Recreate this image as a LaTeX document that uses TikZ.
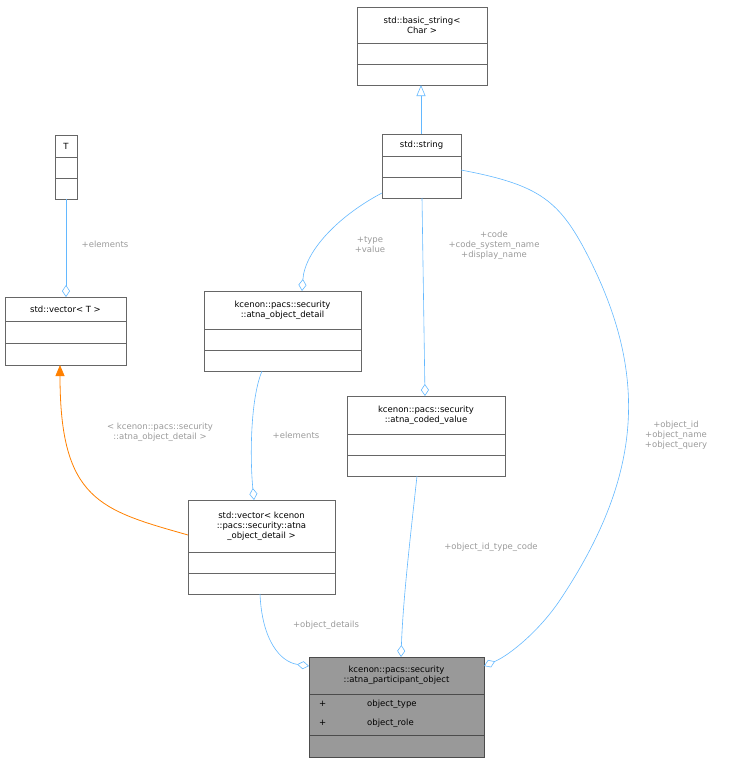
\documentclass[tikz,border=0pt]{standalone}
\usepackage{fontspec}
\setmainfont{DejaVu Sans}
\usetikzlibrary{arrows.meta}
\definecolor{edge}{HTML}{63B8FF}
\definecolor{lab}{HTML}{9A9A9A}
\definecolor{brd}{HTML}{666666}
\begin{document}
\begin{tikzpicture}[x=1pt,y=-1pt,
  t/.style={font=\fontsize{8.5}{10}\selectfont,align=center,inner sep=0},
  lbl/.style={font=\fontsize{8.5}{10}\selectfont,text=lab,align=center,inner sep=0},
  e/.style={draw=edge,line width=0.6pt},
  dia/.style={e,-{Diamond[open,length=12,width=8]}},
  bx/.style={draw=brd,line width=0.6pt}]
\useasboundingbox (0,0) rectangle (730,763);
% class box macro via explicit drawing
\newcommand{\cls}[6]{% name, x1,y1,x2,ytitle,y2 ; compartments split mid
  \draw[bx] (#2,#3) rectangle (#4,#6);
  \draw[bx] (#2,#5) -- (#4,#5);
  \draw[bx] (#2,{(#5+#6)/2}) -- (#4,{(#5+#6)/2});
  \coordinate (#1) at ({(#2+#4)/2},{(#3+#5)/2});}
\cls{bs}{357}{7}{487}{43}{85}
\node[t] at (bs) {std::basic\_string<\\Char >};
\cls{str}{382}{134}{461}{156}{198}
\node[t] at (str) {std::string};
\cls{T}{55}{135}{77}{157}{199}
\node[t] at (T) {T};
\cls{vt}{5}{297}{126}{321}{365}
\node[t] at (vt) {std::vector< T >};
\cls{det}{204}{291}{361}{329}{371}
\node[t] at (det) {kcenon::pacs::security\\::atna\_object\_detail};
\cls{cv}{347}{396}{505}{434}{476}
\node[t] at (cv) {kcenon::pacs::security\\::atna\_coded\_value};
\cls{vk}{188}{500}{335}{552}{594}
\node[t] at (vk) {std::vector< kcenon\\::pacs::security::atna\\\_object\_detail >};
% participant
\fill[fill={rgb,255:red,153;green,153;blue,153}] (309,657) rectangle (484,757);
\draw[bx,draw=black!70] (309,657) rectangle (484,757);
\draw[bx,draw=black!70] (309,694) -- (484,694);
\draw[bx,draw=black!70] (309,735) -- (484,735);
\node[t] (po) at (396.5,675.5) {kcenon::pacs::security\\::atna\_participant\_object};
\node[t,anchor=west] (a1) at (319,704) {+};
\node[t,anchor=west] (a2) at (367,704) {object\_type};
\node[t,anchor=west] (a3) at (319,723) {+};
\node[t,anchor=west] (a4) at (367,723) {object\_role};
% coordinates of edge ends
\coordinate (bsB) at (421,85); \coordinate (strT) at (421,134);
\coordinate (TB) at (66,199); \coordinate (vtT) at (66,297);
\coordinate (vtB) at (60,365); \coordinate (vkL) at (188,535);
\coordinate (strL) at (382,193); \coordinate (detT) at (302,291);
\coordinate (strB) at (422,198); \coordinate (cvT) at (425,396);
\coordinate (strR) at (461,170); \coordinate (poR) at (484,666);
\coordinate (detB) at (262,371); \coordinate (vkT) at (254,500);
\coordinate (cvB) at (417,476); \coordinate (poT) at (401,657);
\coordinate (vkB) at (260,594); \coordinate (poL) at (309,666);
% edges
\draw[e,-{Triangle[open,length=11,width=9]}] (strT) -- (bsB);
\draw[dia] (TB) -- (vtT);
\node[lbl] (l1) at (105,244) {+elements};
\draw[draw=orange,line width=0.8pt,-{Triangle[length=11,width=9]}] (vkL) .. controls (100,510) and (60,500) .. (vtB);
\node[lbl] (l2) at (160,432) {< kcenon::pacs::security\\::atna\_object\_detail >};
\draw[dia] (strL) .. controls (340,215) and (305,250) .. (detT);
\node[lbl] (l3) at (370,245) {+type\\+value};
\draw[dia] (strB) -- (cvT);
\node[lbl] (l4) at (494,245) {+code\\+code\_system\_name\\+display\_name};
\draw[dia] (strR) .. controls (540,185) and (560,200) .. (590,260) .. controls (650,380) and (640,480) .. (560,600) .. controls (540,630) and (510,655) .. (poR);
\node[lbl] (l5) at (676,435) {+object\_id\\+object\_name\\+object\_query};
\draw[dia] (detB) .. controls (250,400) and (250,460) .. (vkT);
\node[lbl] (l6) at (296,435) {+elements};
\draw[dia] (cvB) .. controls (410,540) and (403,600) .. (poT);
\node[lbl] (l7) at (491,547) {+object\_id\_type\_code};
\draw[dia] (vkB) .. controls (262,640) and (280,662) .. (poL);
\node[lbl] (l8) at (326,625) {+object\_details};
\end{tikzpicture}
\end{document}
